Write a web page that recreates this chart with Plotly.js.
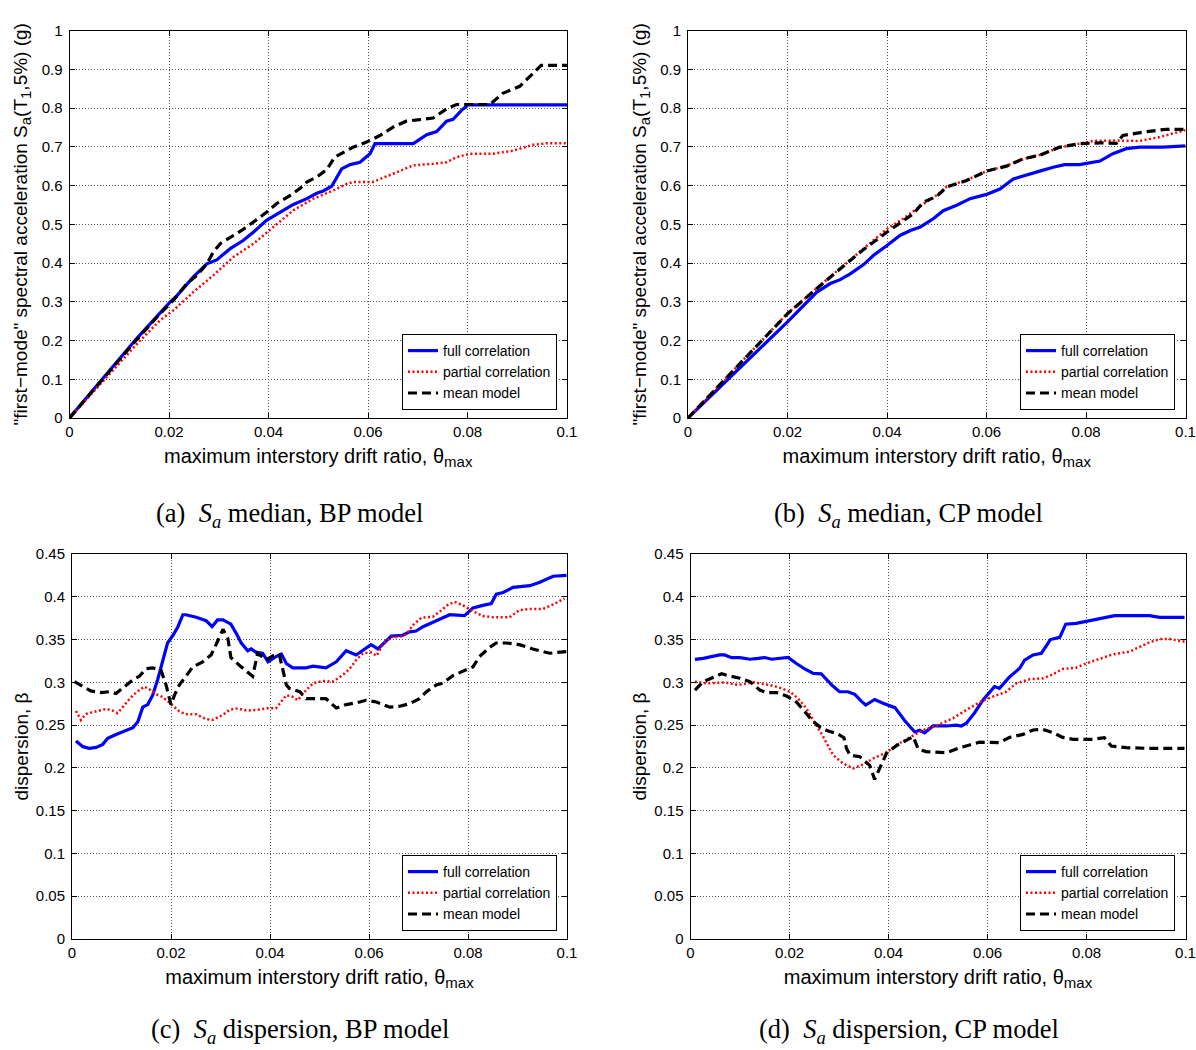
<!DOCTYPE html>
<html>
<head>
<meta charset="utf-8">
<script src="https://cdn.plot.ly/plotly-3.0.1.min.js"></script>
<style>html,body{margin:0;padding:0;background:#fff;}#chart{width:1196px;height:1050px;}</style>
</head>
<body>
<div id="chart"></div>
<script>
// ---------- data ----------
var seriesNames = ["full correlation", "partial correlation", "mean model"];
var xTickVals = [0, 0.02, 0.04, 0.06, 0.08, 0.1];
var xTickText = ["0", "0.02", "0.04", "0.06", "0.08", "0.1"];
var yTickValsMedian = [0, 0.1, 0.2, 0.3, 0.4, 0.5, 0.6, 0.7, 0.8, 0.9, 1];
var yTickTextMedian = ["0", "0.1", "0.2", "0.3", "0.4", "0.5", "0.6", "0.7", "0.8", "0.9", "1"];
var yTickValsDisp = [0, 0.05, 0.1, 0.15, 0.2, 0.25, 0.3, 0.35, 0.4, 0.45];
var yTickTextDisp = ["0", "0.05", "0.1", "0.15", "0.2", "0.25", "0.3", "0.35", "0.4", "0.45"];
var captions = [
  "(a)\u00a0\u00a0<i>S<sub>a</sub></i> median, BP model",
  "(b)\u00a0\u00a0<i>S<sub>a</sub></i> median, CP model",
  "(c)\u00a0\u00a0<i>S<sub>a</sub></i> dispersion, BP model",
  "(d)\u00a0\u00a0<i>S<sub>a</sub></i> dispersion, CP model"
];

// (a) Sa median, BP model
var aFullX = [0, 0.0135, 0.0202, 0.0216, 0.0249, 0.0276, 0.0296, 0.0323, 0.0349, 0.037, 0.0396, 0.0423, 0.045, 0.0477, 0.0497, 0.051, 0.0527, 0.0547, 0.0564, 0.0584, 0.0604, 0.0614, 0.0691, 0.0718, 0.0738, 0.0758, 0.0771, 0.0788, 0.0801, 0.1];
var aFullY = [0, 0.205, 0.299, 0.316, 0.364, 0.398, 0.408, 0.437, 0.458, 0.48, 0.51, 0.531, 0.551, 0.566, 0.58, 0.586, 0.598, 0.643, 0.654, 0.66, 0.682, 0.708, 0.708, 0.731, 0.739, 0.766, 0.771, 0.794, 0.808, 0.808];
var aPartX = [0, 0.0142, 0.0182, 0.0209, 0.0249, 0.0289, 0.0329, 0.037, 0.041, 0.045, 0.049, 0.053, 0.0557, 0.057, 0.061, 0.0651, 0.0691, 0.0731, 0.0758, 0.0778, 0.0805, 0.0851, 0.0892, 0.0932, 0.0959, 0.1];
var aPartY = [0, 0.2, 0.252, 0.278, 0.325, 0.368, 0.415, 0.45, 0.493, 0.536, 0.566, 0.587, 0.604, 0.609, 0.609, 0.63, 0.652, 0.656, 0.66, 0.673, 0.682, 0.682, 0.69, 0.705, 0.709, 0.709];
var aMeanX = [0, 0.013, 0.0182, 0.0209, 0.0236, 0.0256, 0.0276, 0.0289, 0.0303, 0.0323, 0.0346, 0.037, 0.0396, 0.0416, 0.0443, 0.0463, 0.0477, 0.0497, 0.0517, 0.0533, 0.055, 0.057, 0.0597, 0.0624, 0.0651, 0.0677, 0.0704, 0.0731, 0.0758, 0.0778, 0.0845, 0.0871, 0.0905, 0.0925, 0.0948, 0.1];
var aMeanY = [0, 0.195, 0.269, 0.304, 0.347, 0.368, 0.398, 0.428, 0.45, 0.465, 0.484, 0.506, 0.531, 0.553, 0.574, 0.592, 0.609, 0.622, 0.641, 0.673, 0.686, 0.699, 0.712, 0.729, 0.751, 0.766, 0.77, 0.774, 0.798, 0.809, 0.809, 0.838, 0.856, 0.88, 0.91, 0.91];

// (b) Sa median, CP model
var bFullX = [0, 0.02, 0.0259, 0.0286, 0.0306, 0.0326, 0.0353, 0.0373, 0.04, 0.0426, 0.0447, 0.0467, 0.0493, 0.0513, 0.054, 0.0567, 0.06, 0.0627, 0.0654, 0.068, 0.0707, 0.0734, 0.0757, 0.0787, 0.0828, 0.0854, 0.0881, 0.0908, 0.0955, 0.1];
var bFullY = [0, 0.248, 0.325, 0.347, 0.357, 0.372, 0.396, 0.42, 0.445, 0.471, 0.484, 0.493, 0.514, 0.535, 0.549, 0.566, 0.577, 0.591, 0.617, 0.626, 0.637, 0.647, 0.654, 0.654, 0.663, 0.682, 0.695, 0.699, 0.699, 0.702];
var bPartX = [0, 0.02, 0.0266, 0.0306, 0.0346, 0.04, 0.0433, 0.0453, 0.0473, 0.05, 0.052, 0.056, 0.06, 0.064, 0.0674, 0.0707, 0.0747, 0.0787, 0.0814, 0.0854, 0.0908, 0.0948, 0.1];
var bPartY = [0, 0.27, 0.343, 0.387, 0.43, 0.488, 0.515, 0.534, 0.552, 0.575, 0.597, 0.614, 0.637, 0.651, 0.668, 0.679, 0.698, 0.708, 0.715, 0.716, 0.715, 0.725, 0.743];
var bMeanX = [0, 0.02, 0.0266, 0.0306, 0.0346, 0.04, 0.0433, 0.0453, 0.0473, 0.05, 0.052, 0.056, 0.06, 0.064, 0.0674, 0.0707, 0.0747, 0.0787, 0.0828, 0.0861, 0.0874, 0.0921, 0.0961, 0.1];
var bMeanY = [0, 0.269, 0.342, 0.385, 0.428, 0.48, 0.51, 0.527, 0.557, 0.572, 0.596, 0.613, 0.637, 0.65, 0.669, 0.678, 0.699, 0.708, 0.71, 0.709, 0.729, 0.739, 0.745, 0.745];

// (c) Sa dispersion, BP model
var cFullX = [0.0008, 0.0022, 0.0035, 0.0049, 0.0062, 0.0072, 0.0089, 0.0109, 0.0123, 0.0133, 0.0143, 0.0153, 0.0163, 0.0173, 0.0183, 0.0193, 0.0204, 0.0214, 0.0224, 0.023, 0.0251, 0.0271, 0.0283, 0.0294, 0.0305, 0.0321, 0.0332, 0.0342, 0.0355, 0.0362, 0.0372, 0.0385, 0.0396, 0.0412, 0.0423, 0.0433, 0.0446, 0.0473, 0.0487, 0.0513, 0.0534, 0.0554, 0.0574, 0.0588, 0.0604, 0.0618, 0.0631, 0.0645, 0.0668, 0.0682, 0.0695, 0.0709, 0.0736, 0.0763, 0.0793, 0.081, 0.083, 0.0847, 0.0857, 0.0871, 0.0891, 0.0925, 0.0945, 0.0972, 0.0999];
var cFullY = [0.2314, 0.2248, 0.2229, 0.224, 0.2275, 0.2345, 0.239, 0.244, 0.247, 0.254, 0.271, 0.274, 0.285, 0.303, 0.326, 0.346, 0.355, 0.365, 0.379, 0.379, 0.376, 0.372, 0.365, 0.373, 0.373, 0.368, 0.357, 0.346, 0.337, 0.339, 0.335, 0.334, 0.324, 0.33, 0.333, 0.322, 0.317, 0.317, 0.319, 0.317, 0.324, 0.337, 0.332, 0.338, 0.344, 0.339, 0.346, 0.354, 0.355, 0.359, 0.36, 0.365, 0.372, 0.379, 0.378, 0.387, 0.39, 0.392, 0.403, 0.405, 0.411, 0.413, 0.417, 0.424, 0.425];
var cPartX = [0.0008, 0.0018, 0.0028, 0.0049, 0.0069, 0.0082, 0.0092, 0.0106, 0.0116, 0.0129, 0.0146, 0.0156, 0.017, 0.0183, 0.02, 0.0217, 0.023, 0.0251, 0.0271, 0.0284, 0.0305, 0.0318, 0.0335, 0.0352, 0.0372, 0.0392, 0.0412, 0.0433, 0.0446, 0.0456, 0.047, 0.0487, 0.0507, 0.0527, 0.0547, 0.0561, 0.0574, 0.0588, 0.0604, 0.0615, 0.0628, 0.0645, 0.0662, 0.0675, 0.0689, 0.0706, 0.0729, 0.0743, 0.076, 0.0773, 0.079, 0.081, 0.083, 0.085, 0.0884, 0.0904, 0.0925, 0.0951, 0.0972, 0.0995];
var cPartY = [0.2665, 0.256, 0.263, 0.2665, 0.269, 0.267, 0.264, 0.2735, 0.2805, 0.288, 0.295, 0.292, 0.286, 0.283, 0.274, 0.266, 0.2626, 0.2626, 0.257, 0.256, 0.262, 0.268, 0.2696, 0.267, 0.2676, 0.2696, 0.2696, 0.285, 0.283, 0.279, 0.289, 0.299, 0.3016, 0.3008, 0.3086, 0.316, 0.326, 0.334, 0.335, 0.331, 0.344, 0.353, 0.353, 0.356, 0.367, 0.3756, 0.3767, 0.3826, 0.391, 0.394, 0.39, 0.383, 0.3775, 0.376, 0.376, 0.3845, 0.3857, 0.3857, 0.391, 0.398];
var cMeanX = [0.0005, 0.0022, 0.0038, 0.0059, 0.0075, 0.0089, 0.0102, 0.0123, 0.0136, 0.015, 0.0163, 0.018, 0.019, 0.02, 0.0207, 0.0217, 0.023, 0.0244, 0.0264, 0.0281, 0.0291, 0.0305, 0.0315, 0.0321, 0.0338, 0.0355, 0.0365, 0.0375, 0.0392, 0.0406, 0.0419, 0.0433, 0.0439, 0.046, 0.0473, 0.0493, 0.0513, 0.0534, 0.0554, 0.0574, 0.0594, 0.0615, 0.0642, 0.0662, 0.0682, 0.0702, 0.0716, 0.0736, 0.0749, 0.077, 0.079, 0.081, 0.0823, 0.0844, 0.0857, 0.0877, 0.0904, 0.0931, 0.0965, 0.0999];
var cMeanY = [0.3008, 0.295, 0.29, 0.288, 0.289, 0.287, 0.293, 0.303, 0.307, 0.316, 0.317, 0.314, 0.297, 0.274, 0.285, 0.297, 0.307, 0.318, 0.324, 0.332, 0.344, 0.362, 0.351, 0.329, 0.32, 0.312, 0.307, 0.334, 0.326, 0.331, 0.332, 0.297, 0.293, 0.289, 0.281, 0.281, 0.281, 0.27, 0.274, 0.276, 0.279, 0.277, 0.271, 0.272, 0.275, 0.281, 0.289, 0.297, 0.299, 0.308, 0.313, 0.318, 0.33, 0.341, 0.346, 0.346, 0.344, 0.339, 0.334, 0.336];

// (d) Sa dispersion, CP model
var dFullX = [0.0009, 0.0026, 0.0042, 0.0059, 0.0069, 0.0083, 0.01, 0.012, 0.0137, 0.015, 0.0164, 0.018, 0.0197, 0.0214, 0.0231, 0.0248, 0.0264, 0.0285, 0.0301, 0.0318, 0.0332, 0.0345, 0.0354, 0.0372, 0.0389, 0.0413, 0.0433, 0.0453, 0.0463, 0.0473, 0.049, 0.0517, 0.0537, 0.0547, 0.0557, 0.0574, 0.0591, 0.0614, 0.0624, 0.0645, 0.0665, 0.0675, 0.0692, 0.0709, 0.0727, 0.0746, 0.0758, 0.0779, 0.0813, 0.0833, 0.0857, 0.0927, 0.0948, 0.0998];
var dFullY = [0.3269, 0.328, 0.33, 0.332, 0.332, 0.3288, 0.3288, 0.327, 0.328, 0.329, 0.327, 0.328, 0.329, 0.322, 0.3156, 0.3105, 0.31, 0.297, 0.289, 0.289, 0.286, 0.278, 0.2735, 0.28, 0.2755, 0.2704, 0.255, 0.242, 0.244, 0.241, 0.249, 0.249, 0.25, 0.249, 0.252, 0.2645, 0.2794, 0.295, 0.293, 0.3066, 0.3164, 0.326, 0.332, 0.334, 0.35, 0.3526, 0.368, 0.369, 0.373, 0.375, 0.378, 0.378, 0.376, 0.376];
var dPartX = [0.0009, 0.0032, 0.0069, 0.0096, 0.0127, 0.016, 0.018, 0.0201, 0.0217, 0.0234, 0.0254, 0.0268, 0.0288, 0.0308, 0.0328, 0.0349, 0.0369, 0.0396, 0.0416, 0.0443, 0.047, 0.0497, 0.053, 0.0557, 0.0584, 0.0611, 0.0638, 0.0658, 0.0685, 0.0712, 0.0732, 0.0752, 0.0779, 0.0799, 0.0826, 0.0853, 0.0887, 0.0907, 0.0927, 0.0948, 0.0968, 0.0998];
var dPartY = [0.3008, 0.2988, 0.3, 0.2969, 0.3, 0.2969, 0.2938, 0.289, 0.2813, 0.2696, 0.25, 0.2365, 0.215, 0.2053, 0.1995, 0.204, 0.211, 0.218, 0.2268, 0.2357, 0.2443, 0.2494, 0.258, 0.2677, 0.2766, 0.2833, 0.289, 0.2988, 0.3035, 0.3047, 0.3094, 0.3156, 0.3171, 0.322, 0.327, 0.3327, 0.3358, 0.3417, 0.3468, 0.3506, 0.3506, 0.3475];
var dMeanX = [0.0009, 0.0026, 0.0042, 0.0063, 0.0079, 0.01, 0.012, 0.014, 0.0153, 0.0174, 0.0194, 0.0214, 0.0231, 0.0248, 0.0261, 0.0278, 0.0295, 0.031, 0.0315, 0.0322, 0.0342, 0.0362, 0.0372, 0.0382, 0.0396, 0.0416, 0.0436, 0.045, 0.046, 0.0476, 0.0517, 0.0544, 0.0564, 0.0584, 0.0624, 0.0645, 0.0672, 0.0692, 0.0712, 0.0732, 0.0752, 0.0773, 0.0813, 0.0836, 0.085, 0.088, 0.0921, 0.0998];
var dMeanY = [0.291, 0.3008, 0.3047, 0.31, 0.3074, 0.3047, 0.3008, 0.291, 0.288, 0.288, 0.284, 0.277, 0.2657, 0.254, 0.248, 0.243, 0.2404, 0.2353, 0.223, 0.215, 0.213, 0.203, 0.1866, 0.1995, 0.217, 0.226, 0.2326, 0.2365, 0.222, 0.219, 0.2178, 0.2236, 0.2268, 0.23, 0.2295, 0.2357, 0.2392, 0.2443, 0.245, 0.2412, 0.2357, 0.2334, 0.2334, 0.2353, 0.2256, 0.2236, 0.2229, 0.2229];

// ---------- styles ----------
var SANS = "Liberation Sans, Arial, Helvetica, sans-serif";
var SERIF = "Liberation Serif, Times New Roman, serif";
var lineStyles = [
  {color: "#0000ff", width: 3.2, dash: "solid"},
  {color: "#ff0000", width: 2.5, dash: "2px,2.5px"},
  {color: "#000000", width: 3.2, dash: "9px,5px"}
];

var panels = [
  {xs: [aFullX, aPartX, aMeanX], ys: [aFullY, aPartY, aMeanY]},
  {xs: [bFullX, bPartX, bMeanX], ys: [bFullY, bPartY, bMeanY]},
  {xs: [cFullX, cPartX, cMeanX], ys: [cFullY, cPartY, cMeanY]},
  {xs: [dFullX, dPartX, dMeanX], ys: [dFullY, dPartY, dMeanY]}
];

var W = 1196, H = 1050;
// plot-area pixel boxes [left, right, top, bottom]
var boxes = [
  [69.5, 567, 30.5, 418],
  [688, 1185.5, 30.5, 418],
  [72, 567, 554, 939],
  [690.5, 1185.5, 554, 939]
];
var legendPos = [[557, 410], [1175, 410], [557, 931], [1175, 931]];
var captionPos = [[289, 515], [908, 515], [300, 1031], [909, 1031]];

var traces = [];
panels.forEach(function (p, pi) {
  var sfx = pi === 0 ? "" : String(pi + 1);
  for (var s = 0; s < 3; s++) {
    traces.push({
      type: "scatter", mode: "lines",
      x: p.xs[s], y: p.ys[s],
      name: seriesNames[s],
      xaxis: "x" + sfx, yaxis: "y" + sfx,
      legend: "legend" + sfx,
      line: lineStyles[s],
      hoverinfo: "skip"
    });
  }
});

var layout = {
  width: W, height: H,
  margin: {l: 0, r: 0, t: 0, b: 0},
  paper_bgcolor: "#ffffff", plot_bgcolor: "#ffffff",
  font: {family: SANS, size: 15, color: "#000"},
  showlegend: true,
  annotations: []
};

function axisBase() {
  return {
    showline: true, linecolor: "#000", linewidth: 1, mirror: "ticks",
    ticks: "inside", ticklen: 5, tickwidth: 1, tickcolor: "#000",
    showgrid: true, gridcolor: "#555", gridwidth: 1, griddash: "1px,2px",
    zeroline: false, tickmode: "array", fixedrange: true,
    tickfont: {family: SANS, size: 15, color: "#000"}
  };
}

boxes.forEach(function (b, i) {
  var sfx = i === 0 ? "" : String(i + 1);
  var xa = axisBase();
  xa.domain = [b[0] / W, b[1] / W];
  xa.range = [0, 0.1];
  xa.anchor = "y" + sfx;
  xa.tickvals = xTickVals; xa.ticktext = xTickText;
  xa.ticklabelstandoff = 0;
  xa.title = {text: "maximum interstory drift ratio, θ<sub><span style=\"font-size:15px\">max</span></sub>", font: {family: SANS, size: 20, color: "#000"}, standoff: 9};
  var ya = axisBase();
  ya.domain = [1 - b[3] / H, 1 - b[2] / H];
  ya.anchor = "x" + sfx;
  ya.ticklabelstandoff = 3;
  if (i < 2) {
    ya.range = [0, 1];
    ya.tickvals = yTickValsMedian; ya.ticktext = yTickTextMedian;
    ya.title = {text: "\"first−mode\" spectral acceleration S<sub><span style=\"font-size:15px\">a</span></sub>(T<sub><span style=\"font-size:15px\">1</span></sub>,5%) (g)", font: {family: SANS, size: 19, color: "#000"}, standoff: 8};
  } else {
    ya.range = [0, 0.45];
    ya.tickvals = yTickValsDisp; ya.ticktext = yTickTextDisp;
    ya.title = {text: "dispersion, β", font: {family: SANS, size: 19, color: "#000"}, standoff: 2};
  }
  layout["xaxis" + sfx] = xa;
  layout["yaxis" + sfx] = ya;

  layout["legend" + sfx] = {
    x: legendPos[i][0] / W, y: 1 - legendPos[i][1] / H,
    xanchor: "right", yanchor: "bottom",
    xref: "paper", yref: "paper",
    bgcolor: "#ffffff", bordercolor: "#000", borderwidth: 1,
    font: {family: SANS, size: 14, color: "#000"},
    tracegroupgap: 0, itemwidth: 30
  };

  layout.annotations.push({
    xref: "paper", yref: "paper",
    x: captionPos[i][0] / W, y: 1 - captionPos[i][1] / H,
    xanchor: "center", yanchor: "middle",
    text: captions[i], showarrow: false,
    font: {family: SERIF, size: 26.5, color: "#000"}
  });
});

Plotly.newPlot("chart", traces, layout, {staticPlot: true, displayModeBar: false});
</script>
</body>
</html>
